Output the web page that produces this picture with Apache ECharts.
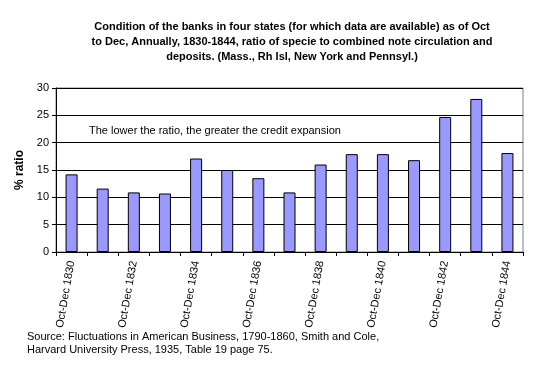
<!DOCTYPE html>
<html>
<head>
<meta charset="utf-8">
<script src="https://cdn.jsdelivr.net/npm/echarts@6/dist/echarts.min.js"></script>
<style>html,body{margin:0;padding:0;background:#fff}#c{width:534px;height:366px}</style>
</head>
<body>
<div id="c"></div>
<script>
var categories = ['Oct-Dec 1830','Oct-Dec 1831','Oct-Dec 1832','Oct-Dec 1833','Oct-Dec 1834','Oct-Dec 1835','Oct-Dec 1836','Oct-Dec 1837','Oct-Dec 1838','Oct-Dec 1839','Oct-Dec 1840','Oct-Dec 1841','Oct-Dec 1842','Oct-Dec 1843','Oct-Dec 1844'];
var ratios = [14.2, 11.6, 10.9, 10.7, 17.1, 15.0, 13.5, 10.9, 16.0, 17.9, 17.9, 16.8, 24.7, 28.0, 18.1];
var yTicks = [0, 5, 10, 15, 20, 25, 30];

var chart = echarts.init(document.getElementById('c'), null, {renderer: 'canvas'});
var F = 'Arial, "Liberation Sans", sans-serif';
chart.setOption({
  animation: false,
  backgroundColor: '#ffffff',
  title: {
    text: 'Condition of the banks in four states (for which data are available) as of Oct\nto Dec, Annually, 1830-1844, ratio of specie to combined note circulation and\ndeposits. (Mass., Rh Isl, New York and Pennsyl.)',
    left: 287, top: 14, textAlign: 'center',
    textStyle: {fontFamily: F, fontSize: 11, fontWeight: 'bold', color: '#000', lineHeight: 15}
  },
  grid: {left: 56, top: 88, width: 467, height: 164, show: true, borderColor: '#808080', borderWidth: 1, backgroundColor: 'transparent'},
  xAxis: {
    type: 'category', data: categories,
    axisLine: {lineStyle: {color: '#000', width: 1}},
    axisTick: {show: true, alignWithLabel: false, interval: 0, length: 4, lineStyle: {color: '#000'}},
    axisLabel: {interval: 1, rotate: 80, fontFamily: F, fontSize: 11, color: '#000', margin: 9},
    splitLine: {show: false}
  },
  yAxis: {
    type: 'value', min: yTicks[0], max: yTicks[yTicks.length-1], interval: 5,
    name: '% ratio', nameLocation: 'middle', nameGap: 26, nameRotate: 90,
    nameTextStyle: {fontFamily: F, fontSize: 12, fontWeight: 'bold', color: '#000'},
    axisLine: {show: true, lineStyle: {color: '#000'}},
    axisTick: {show: true, length: 4, lineStyle: {color: '#000'}},
    axisLabel: {fontFamily: F, fontSize: 11, color: '#000', margin: 7},
    splitLine: {show: true, lineStyle: {color: '#000', width: 1}}
  },
  series: [{
    type: 'bar', data: ratios, barWidth: 12,
    itemStyle: {color: '#9999FF', borderColor: '#000', borderWidth: 1}
  }],
  graphic: [
    {type: 'rect', left: 86, top: 124, shape: {width: 290, height: 14}, style: {fill: '#fff'}, z: 5},
    {type: 'text', left: 89, top: 125, z: 6, style: {text: 'The lower the ratio, the greater the credit expansion', fontFamily: F, fontSize: 11, fill: '#000'}},
    {type: 'text', left: 27, top: 330, style: {text: 'Source: Fluctuations in American Business, 1790-1860, Smith and Cole,\nHarvard University Press, 1935, Table 19 page 75.', fontFamily: F, fontSize: 11, lineHeight: 13, fill: '#000'}}
  ]
});
</script>
</body>
</html>
